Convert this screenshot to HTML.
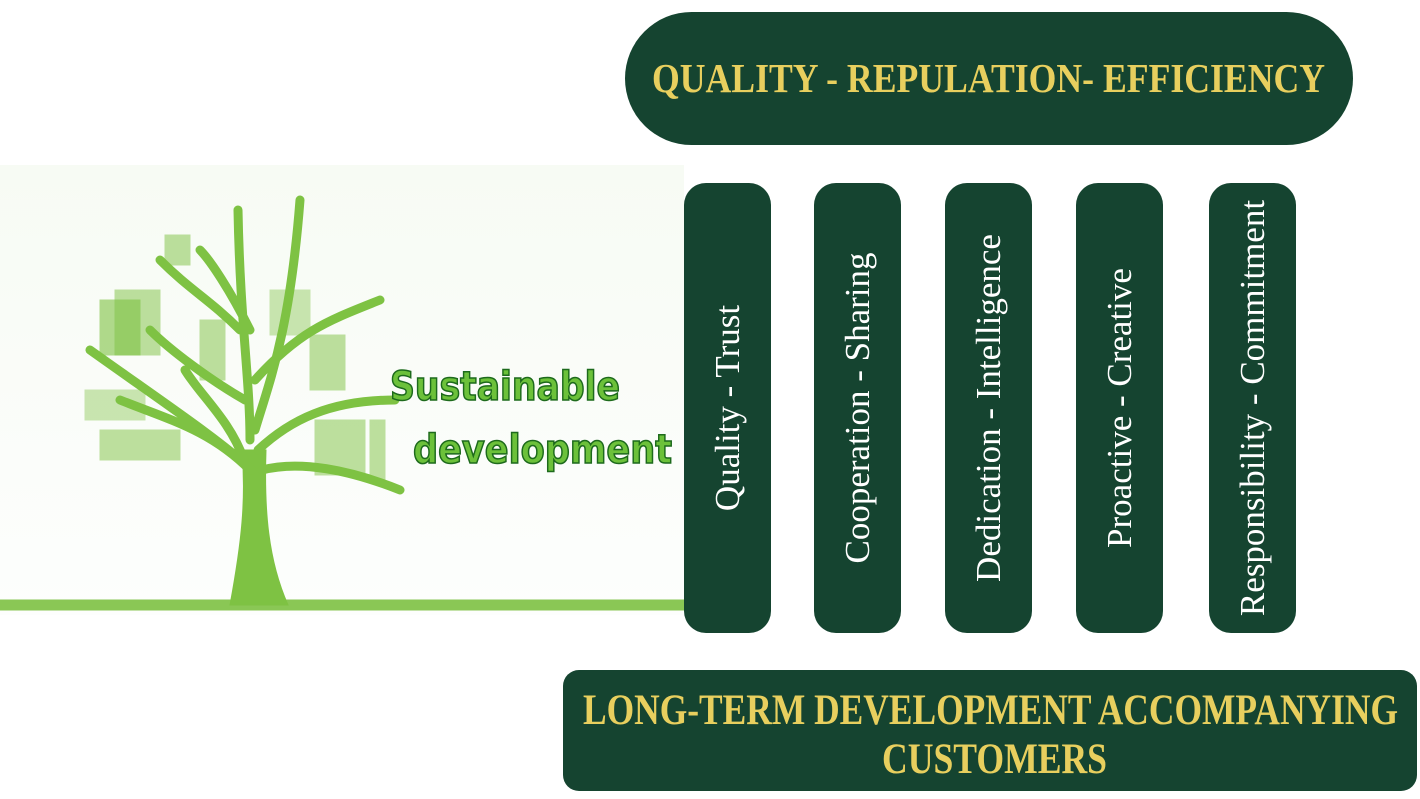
<!DOCTYPE html>
<html><head><style>
body{margin:0;width:1420px;height:799px;background:#fff;position:relative;overflow:hidden;font-family:"Liberation Serif",serif}
.box{position:absolute;background:#154430}
.p{position:absolute;top:183px;width:87px;height:450px;border-radius:22px;background:#154430}
.p span{position:absolute;left:50%;top:50%;transform:translate(-50%,-50%) rotate(-90deg);color:#fff;font-size:35px;white-space:nowrap}
</style></head><body>
<div style="position:absolute;left:0;top:165px;width:684px;height:450px;background:linear-gradient(#f7fbf4,#fdfefd)"></div>
<svg style="position:absolute;left:0;top:0" width="700" height="620">
<g fill="#7ec243" stroke="#7ec243">
<path d="M230 605 C242 540 246 500 242 450 L266 450 C264 510 268 560 288 605 Z"/>
<path d="M244 460 C230 420 200 395 185 370 M250 440 C250 380 240 320 238 210 M255 430 C270 380 290 330 300 200 M258 450 C290 420 330 400 395 400 M252 470 C220 440 160 400 90 350 M250 470 C210 430 170 420 120 400 M262 470 C300 460 350 470 400 490 M245 400 C210 380 170 350 150 330 M255 380 C300 330 330 320 380 300 M240 330 C210 300 190 290 160 260 M250 330 C230 290 210 260 200 250" fill="none" stroke-width="9" stroke-linecap="round"/>
<rect x="100" y="300" width="40" height="55" opacity=".6"/><rect x="115" y="290" width="45" height="65" opacity=".5"/>
<rect x="165" y="235" width="25" height="30" opacity=".5"/><rect x="200" y="320" width="25" height="60" opacity=".5"/>
<rect x="270" y="290" width="40" height="45" opacity=".4"/><rect x="310" y="335" width="35" height="55" opacity=".5"/>
<rect x="100" y="430" width="80" height="30" opacity=".5"/><rect x="85" y="390" width="60" height="30" opacity=".4"/>
<rect x="315" y="420" width="50" height="55" opacity=".5"/><rect x="370" y="420" width="15" height="60" opacity=".5"/>
<rect x="0" y="600" width="684" height="10" opacity=".9"/>
</g>
<g font-family="'DejaVu Sans Condensed','DejaVu Sans',sans-serif" font-size="40" fill="#6cc13a" stroke="#1d6a1c" stroke-width="1.5" font-weight="bold">
<text x="390" y="400" textLength="230" lengthAdjust="spacingAndGlyphs">Sustainable</text>
<text x="413" y="463" textLength="259" lengthAdjust="spacingAndGlyphs">development</text>
</g>
</svg>
<div class="box" style="left:625px;top:12px;width:728px;height:133px;border-radius:67px"></div>
<div class="p" style="left:684px"><span>Quality - Trust</span></div>
<div class="p" style="left:814px"><span>Cooperation - Sharing</span></div>
<div class="p" style="left:945px"><span>Dedication - Intelligence</span></div>
<div class="p" style="left:1076px"><span>Proactive - Creative</span></div>
<div class="p" style="left:1209px"><span>Responsibility - Commitment</span></div>
<div class="box" style="left:563px;top:670px;width:854px;height:121px;border-radius:16px"></div>
<svg style="position:absolute;left:0;top:0" width="1420" height="799">
<g font-family="'Liberation Serif',serif" font-weight="bold" fill="#e8cf5e">
<text x="652" y="92" font-size="41" textLength="673" lengthAdjust="spacingAndGlyphs">QUALITY - REPULATION- EFFICIENCY</text>
<text x="583" y="724" font-size="43" textLength="815" lengthAdjust="spacingAndGlyphs">LONG-TERM DEVELOPMENT ACCOMPANYING</text>
<text x="882" y="773" font-size="43" textLength="225" lengthAdjust="spacingAndGlyphs">CUSTOMERS</text>
</g>
</svg>
</body></html>
